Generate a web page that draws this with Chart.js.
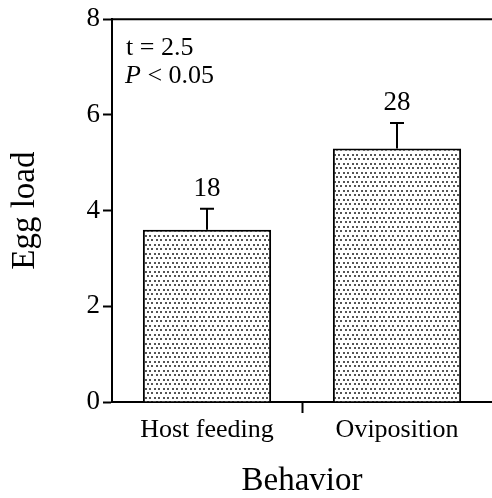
<!DOCTYPE html>
<html>
<head>
<meta charset="utf-8">
<script src="https://cdn.jsdelivr.net/npm/chart.js@4/dist/chart.umd.min.js"></script>
<style>
    html, body { margin: 0; padding: 0; background: #ffffff; overflow: hidden; }
    #wrap { position: relative; width: 492px; height: 498px; }
</style>
</head>
<body>
<div id="wrap"><canvas id="eggChart" width="492" height="498"></canvas></div>
<script>
    // Mean egg load by behavior, with SE and sample size
    const behaviors = ['Host feeding', 'Oviposition'];
    const eggLoad = [3.6, 5.3];
    const eggLoadErr = [0.44, 0.53];
    const sampleSizes = [18, 28];
    const yTicks = [0, 2, 4, 6, 8];
    const statLines = ['t = 2.5', 'P < 0.05'];

    const serif = "'Liberation Serif', 'Times New Roman', serif";

    // Stippled fill used for the bars
    function dotPattern() {
        const tile = document.createElement('canvas');
        tile.width = 9;
        tile.height = 9;
        const t = tile.getContext('2d');
        t.fillStyle = '#ffffff';
        t.fillRect(0, 0, 9, 9);
        t.fillStyle = '#555555';
        [[1, 1], [5, 1], [3, 5], [7, 5]].forEach(function(p) {
            t.fillRect(p[0], p[1], 2, 2);
        });
        return document.getElementById('eggChart').getContext('2d').createPattern(tile, 'repeat');
    }

    // Error bars, sample sizes, the top frame line and the test result
    const extrasPlugin = {
        id: 'extras',
        afterDraw: function(chart) {
            const ctx = chart.ctx;
            const area = chart.chartArea;
            const yScale = chart.scales.y;
            const meta = chart.getDatasetMeta(0);

            ctx.save();
            ctx.strokeStyle = '#000';
            ctx.lineWidth = 2;

            // top frame line
            ctx.beginPath();
            ctx.moveTo(area.left, area.top);
            ctx.lineTo(area.right, area.top);
            ctx.stroke();

            meta.data.forEach(function(bar, i) {
                const x = Math.round(bar.x);
                const yTop = yScale.getPixelForValue(eggLoad[i] + eggLoadErr[i]);
                ctx.beginPath();
                ctx.moveTo(x, bar.y);
                ctx.lineTo(x, yTop);
                ctx.moveTo(x - 7, yTop);
                ctx.lineTo(x + 7, yTop);
                ctx.stroke();

                ctx.fillStyle = '#000';
                ctx.font = '27px ' + serif;
                ctx.textAlign = 'center';
                ctx.textBaseline = 'alphabetic';
                ctx.fillText(String(sampleSizes[i]), x, yTop - 13);
            });

            // test statistic
            ctx.fillStyle = '#000';
            ctx.textAlign = 'left';
            ctx.textBaseline = 'alphabetic';
            ctx.font = '26px ' + serif;
            ctx.fillText(statLines[0], area.left + 14, area.top + 36);

            const parts = statLines[1].split(' ');
            ctx.font = 'italic 26px ' + serif;
            ctx.fillText(parts[0], area.left + 13, area.top + 64);
            const w = ctx.measureText(parts[0] + ' ').width;
            ctx.font = '26px ' + serif;
            ctx.fillText(parts.slice(1).join(' '), area.left + 13 + w, area.top + 64);
            ctx.restore();
        }
    };

    new Chart(document.getElementById('eggChart'), {
        type: 'bar',
        data: {
            labels: behaviors,
            datasets: [{
                data: eggLoad,
                backgroundColor: dotPattern(),
                borderColor: '#000',
                borderWidth: 2,
                barPercentage: 0.675,
                categoryPercentage: 1.0
            }]
        },
        options: {
            responsive: false,
            animation: false,
            devicePixelRatio: 1,
            layout: { padding: { top: 18, right: 0, left: 0, bottom: 0 } },
            plugins: {
                legend: { display: false },
                tooltip: { enabled: false }
            },
            scales: {
                y: {
                    min: yTicks[0],
                    max: yTicks[yTicks.length - 1],
                    afterFit: function(scale) { scale.width = 112; },
                    afterBuildTicks: function(scale) {
                        scale.ticks = yTicks.map(v => ({ value: v }));
                    },
                    ticks: {
                        padding: 3,
                        color: '#000',
                        font: { family: serif, size: 27 }
                    },
                    grid: {
                        drawOnChartArea: false,
                        drawTicks: true,
                        tickLength: 9,
                        tickColor: '#000',
                        tickWidth: 2
                    },
                    border: { display: true, color: '#000', width: 2 },
                    title: {
                        display: true,
                        text: 'Egg load',
                        color: '#000',
                        font: { family: serif, size: 33, lineHeight: 1 },
                        padding: { top: 9, bottom: 0 }
                    }
                },
                x: {
                    afterFit: function(scale) { scale.height = 96; },
                    ticks: {
                        padding: 2,
                        color: '#000',
                        font: { family: serif, size: 26 }
                    },
                    grid: {
                        offset: true,
                        drawOnChartArea: false,
                        drawTicks: true,
                        tickLength: 11,
                        tickWidth: 2,
                        tickColor: function(c) {
                            return c.index === 1 ? '#000' : 'rgba(0,0,0,0)';
                        }
                    },
                    border: { display: true, color: '#000', width: 2 },
                    title: {
                        display: true,
                        text: 'Behavior',
                        color: '#000',
                        font: { family: serif, size: 33, lineHeight: 1 },
                        padding: { top: 0, bottom: 0 }
                    }
                }
            }
        },
        plugins: [extrasPlugin]
    });
</script>
</body>
</html>
